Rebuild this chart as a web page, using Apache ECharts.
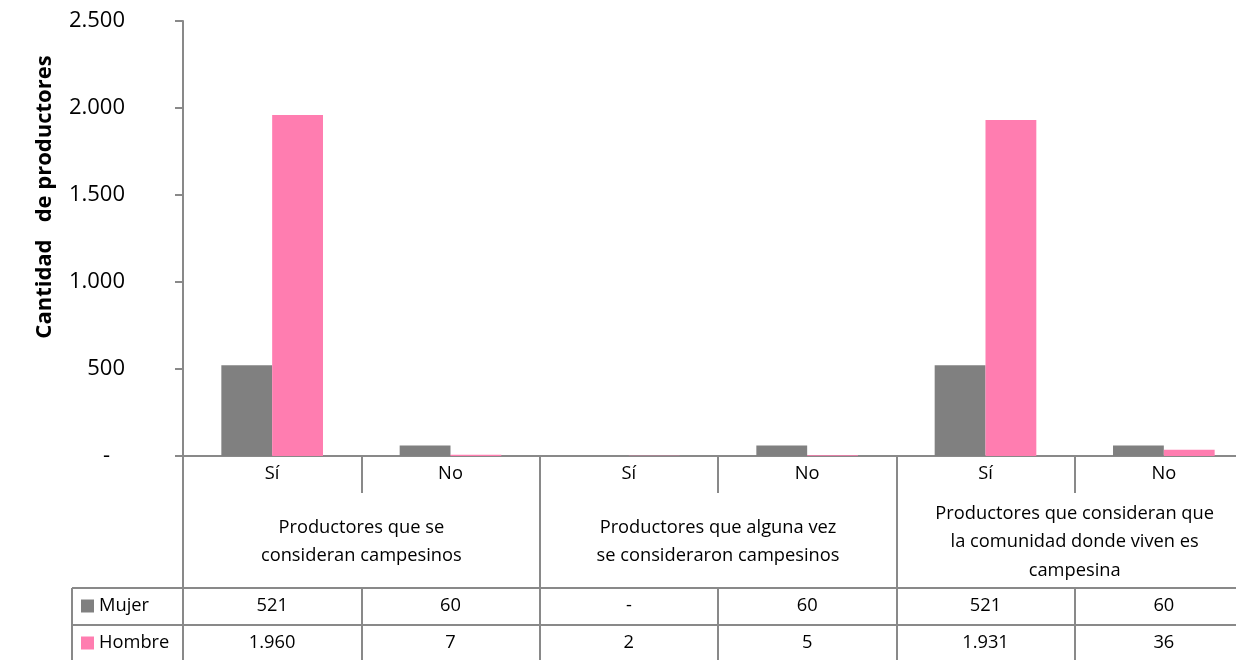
<!DOCTYPE html>
<html><head><meta charset="utf-8">
<script src="https://cdn.jsdelivr.net/npm/echarts@6/dist/echarts.min.js"></script>
<style>html,body{margin:0;padding:0;background:#fff}#c{width:1236px;height:660px}</style>
</head><body><div id="c"></div>
<script>
const subCategories = ['Sí', 'No', 'Sí', 'No', 'Sí', 'No'];
const groupCategories = [
  'Productores que se\nconsideran campesinos',
  'Productores que alguna vez\nse consideraron campesinos',
  'Productores que consideran que\nla comunidad donde viven es\ncampesina'
];
const mujer = [521, 60, 0, 60, 521, 60];
const hombre = [1960, 7, 2, 5, 1931, 36];
const yTicks = [0, 500, 1000, 1500, 2000, 2500];
const yTitle = 'Cantidad   de productores';

const FONT = 'Open Sans';
const FS = 18.3;
const LINE = '#898989';
function fmt(v) {
  if (v === 0) return '-';
  return String(v).replace(/\B(?=(\d{3})+(?!\d))/g, '.');
}
const chart = echarts.init(document.getElementById('c'), null, {renderer: 'canvas'});
const tableLabel = (arr) => ({
  show: true, interval: 0, color: '#000', fontFamily: FONT, fontSize: FS,
  verticalAlign: 'middle', margin: 18,
  formatter: (v, i) => fmt(arr[i])
});
const legendBase = {
  orient: 'vertical', left: 81, itemWidth: 13, itemHeight: 13, padding: 0,
  icon: 'rect', selectedMode: false,
  textStyle: {color: '#000', fontFamily: FONT, fontSize: FS, lineHeight: 20}
};
chart.setOption({
  animation: false,
  textStyle: {fontFamily: FONT},
  grid: {left: 183, top: 21, width: 1070, height: 435, containLabel: false, outerBoundsMode: 'none'},
  legend: [
    Object.assign({}, legendBase, {top: 596, data: ['Mujer']}),
    Object.assign({}, legendBase, {top: 633, data: ['Hombre']})
  ],
  xAxis: [
    {
      type: 'category', data: subCategories, position: 'bottom', gridIndex: 0,
      axisLine: {show: true, lineStyle: {color: LINE, width: 2}},
      axisTick: {show: true, length: 37, interval: 0, lineStyle: {color: LINE, width: 2}},
      axisLabel: {interval: 0, color: '#000', fontFamily: FONT, fontSize: FS, margin: 18, verticalAlign: 'middle'}
    },
    {
      type: 'category', data: groupCategories, position: 'bottom', gridIndex: 0, offset: 0,
      axisLine: {show: false},
      axisTick: {show: true, length: 132, interval: 0, lineStyle: {color: LINE, width: 2}},
      axisLabel: {interval: 0, color: '#000', fontFamily: FONT, fontSize: FS, lineHeight: 28.5, margin: 86, verticalAlign: 'middle', align: 'center'}
    },
    {
      type: 'category', data: subCategories, position: 'bottom', gridIndex: 0, offset: 132,
      axisLine: {show: true, lineStyle: {color: LINE, width: 2}},
      axisTick: {show: true, length: 37, interval: 0, lineStyle: {color: LINE, width: 2}},
      axisLabel: tableLabel(mujer)
    },
    {
      type: 'category', data: subCategories, position: 'bottom', gridIndex: 0, offset: 169,
      axisLine: {show: true, lineStyle: {color: LINE, width: 2}},
      axisTick: {show: true, length: 37, interval: 0, lineStyle: {color: LINE, width: 2}},
      axisLabel: tableLabel(hombre)
    }
  ],
  yAxis: {
    type: 'value', min: yTicks[0], max: yTicks[yTicks.length - 1], interval: yTicks[1] - yTicks[0],
    axisLine: {show: true, lineStyle: {color: LINE, width: 2}},
    axisTick: {show: true, length: 8, lineStyle: {color: LINE, width: 2}},
    splitLine: {show: false},
    axisLabel: {
      color: '#000', fontFamily: FONT, fontSize: 22, margin: 58,
      formatter: (v) => v === 0 ? '{d|-}' : fmt(v),
      rich: {d: {color: '#000', fontFamily: FONT, fontSize: 22, padding: [0, 15, 0, 0]}}
    }
  },
  series: [
    {name: 'Mujer', type: 'bar', xAxisIndex: 0, data: mujer, itemStyle: {color: '#808080'}, barGap: '0%', barCategoryGap: '43%'},
    {name: 'Hombre', type: 'bar', xAxisIndex: 0, data: hombre, itemStyle: {color: '#FF7DB0'}, barGap: '0%', barCategoryGap: '43%'}
  ],
  graphic: [
    {type: 'line', shape: {x1: 72, y1: 588, x2: 183, y2: 588}, style: {stroke: LINE, lineWidth: 2}},
    {type: 'line', shape: {x1: 72, y1: 625, x2: 183, y2: 625}, style: {stroke: LINE, lineWidth: 2}},
    {type: 'line', shape: {x1: 72, y1: 588, x2: 72, y2: 662}, style: {stroke: LINE, lineWidth: 2}},
    {type: 'text', x: 45, y: 197, rotation: Math.PI / 2,
      style: {text: yTitle, fill: '#000', font: 'bold 22px "Open Sans"', textAlign: 'center', textVerticalAlign: 'middle'}}
  ]
});
</script></body></html>
